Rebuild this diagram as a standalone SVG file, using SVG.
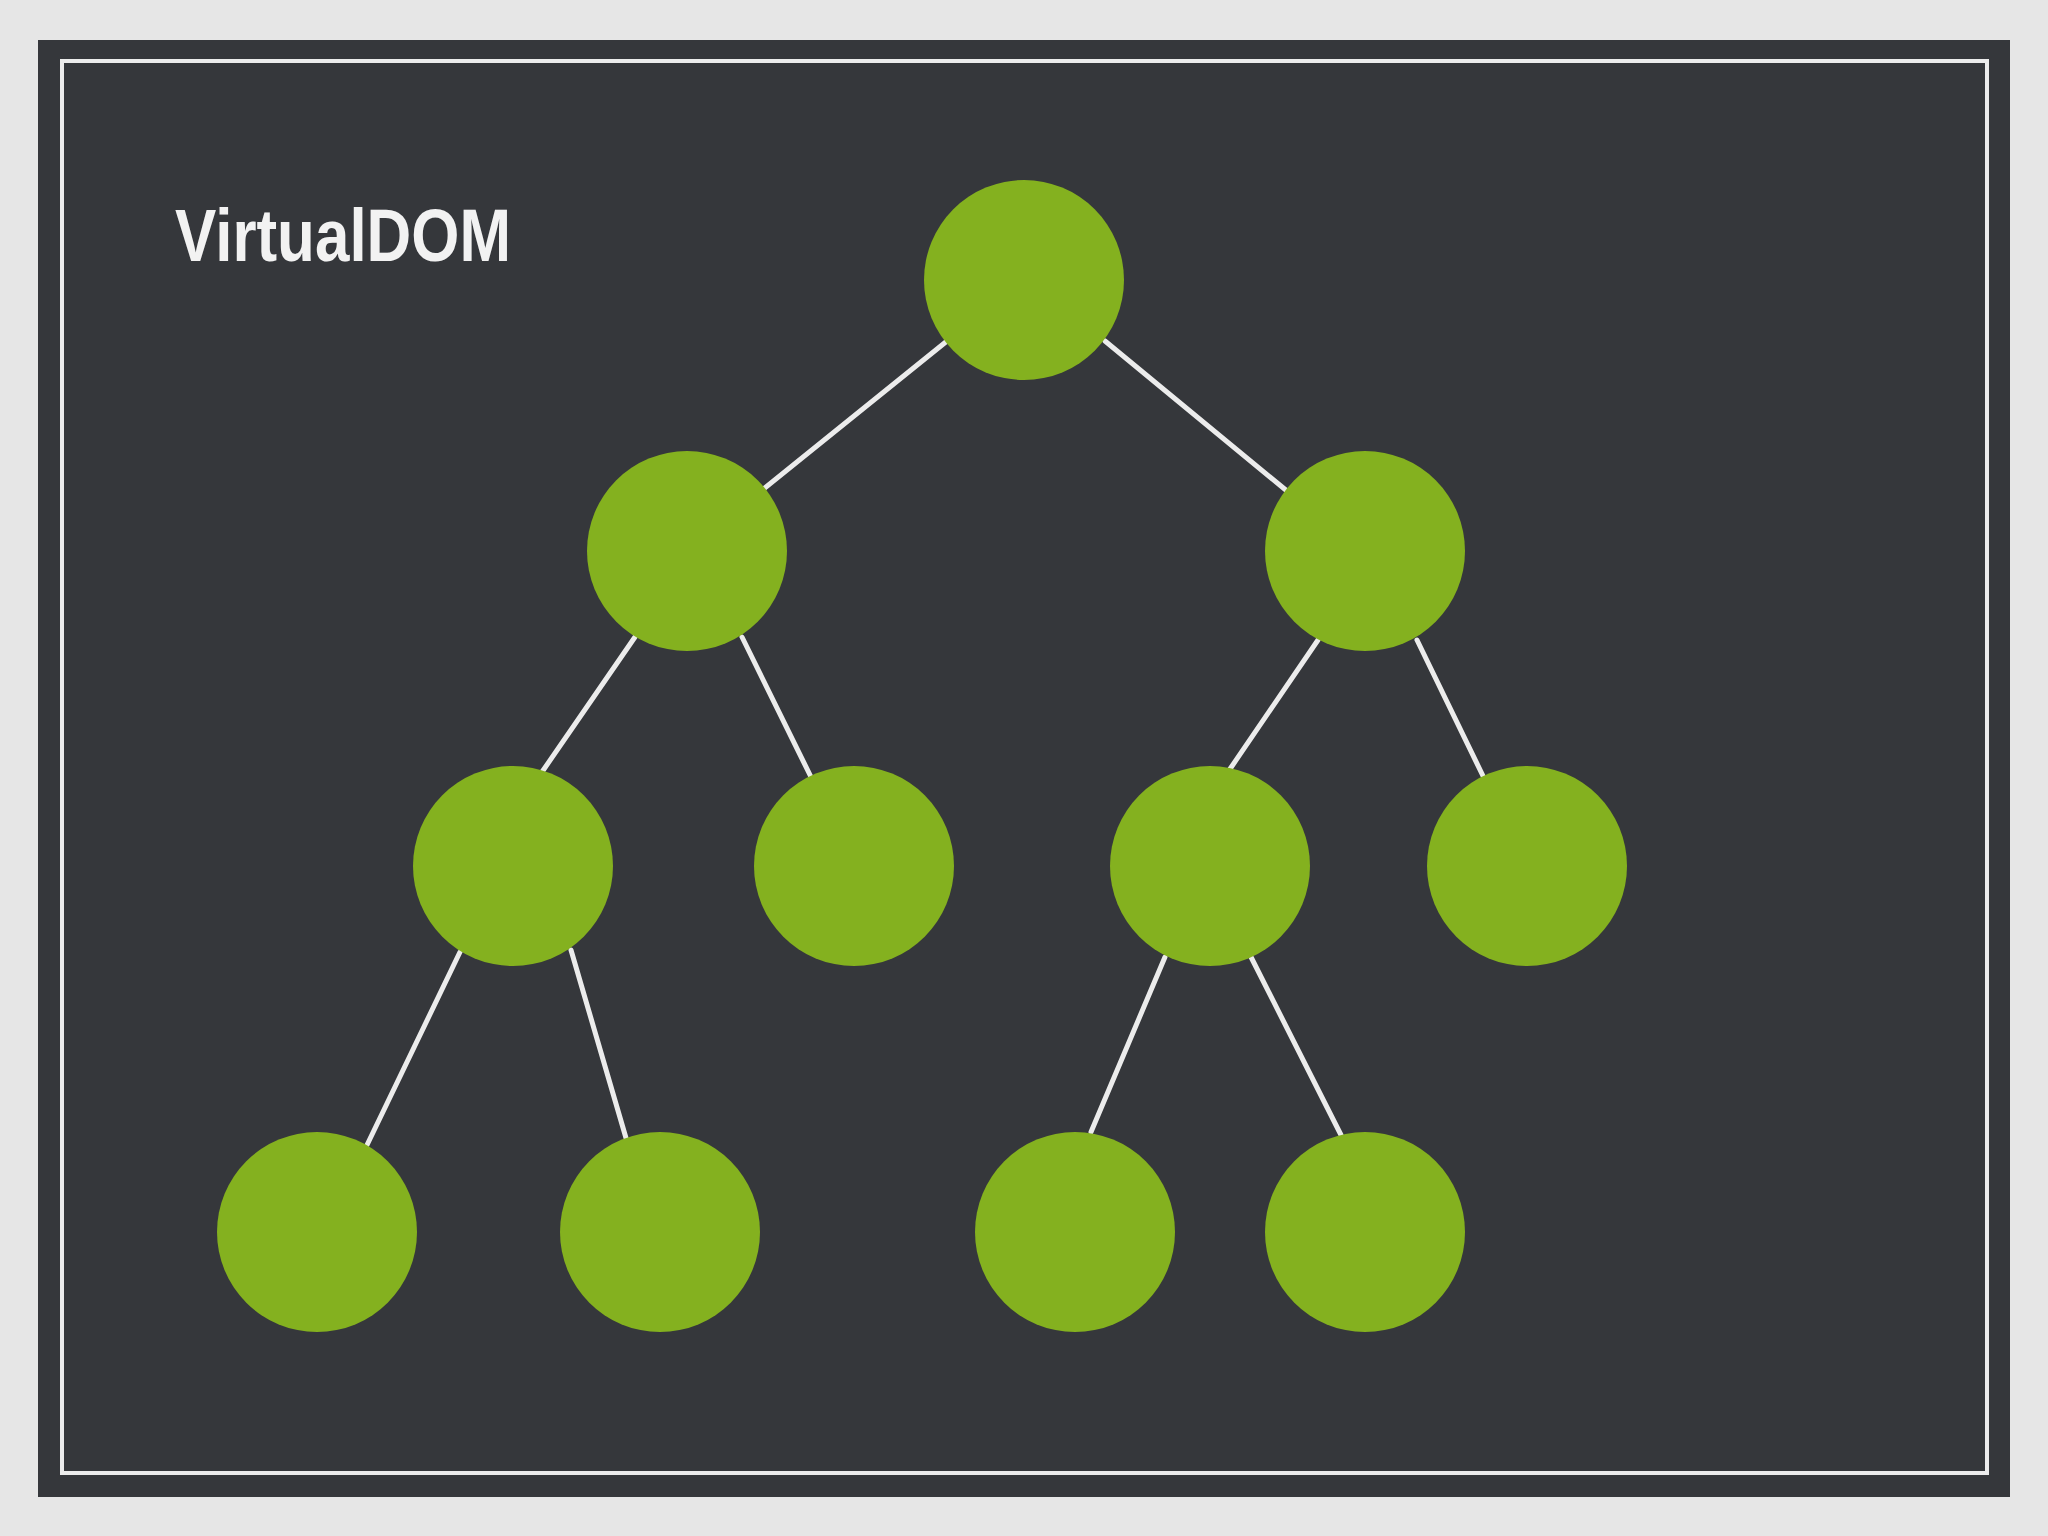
<svg xmlns="http://www.w3.org/2000/svg" width="2048" height="1536" viewBox="0 0 2048 1536">
<style>
.node{fill:#84b11f}
.edge{stroke:#ececec;stroke-width:5;stroke-linecap:round;fill:none}
.title{font-family:"Liberation Sans",Arial,sans-serif;font-weight:bold;font-size:75px;fill:#f2f2f2}
</style>
<rect x="0" y="0" width="2048" height="1536" fill="#e6e6e6"/>
<rect x="38" y="40" width="1972" height="1457" fill="#35373b"/>
<rect x="62" y="61" width="1925" height="1412" fill="none" stroke="#ececec" stroke-width="4"/>
<text class="title" transform="translate(175,261) scale(0.826,1)">VirtualDOM</text>
<g id="connectors">
<line class="edge" x1="947" y1="341" x2="761" y2="491"/>
<line class="edge" x1="1105" y1="341" x2="1287" y2="491"/>
<line class="edge" x1="635" y1="637" x2="542" y2="772"/>
<line class="edge" x1="742" y1="637" x2="811" y2="777"/>
<line class="edge" x1="1318" y1="640" x2="1230" y2="769"/>
<line class="edge" x1="1417" y1="640" x2="1484" y2="778"/>
<line class="edge" x1="460" y1="952" x2="367" y2="1145"/>
<line class="edge" x1="571" y1="950" x2="626" y2="1138"/>
<line class="edge" x1="1165" y1="957" x2="1091" y2="1132"/>
<line class="edge" x1="1251" y1="957" x2="1341" y2="1135"/>
</g>
<g id="n0"><circle class="node" cx="1024" cy="280" r="100"/></g>
<g id="n1"><circle class="node" cx="687" cy="551" r="100"/></g>
<g id="n2"><circle class="node" cx="1365" cy="551" r="100"/></g>
<g id="n3"><circle class="node" cx="513" cy="866" r="100"/></g>
<g id="n4"><circle class="node" cx="854" cy="866" r="100"/></g>
<g id="n5"><circle class="node" cx="1210" cy="866" r="100"/></g>
<g id="n6"><circle class="node" cx="1527" cy="866" r="100"/></g>
<g id="n7"><circle class="node" cx="317" cy="1232" r="100"/></g>
<g id="n8"><circle class="node" cx="660" cy="1232" r="100"/></g>
<g id="n9"><circle class="node" cx="1075" cy="1232" r="100"/></g>
<g id="n10"><circle class="node" cx="1365" cy="1232" r="100"/></g>
</svg>
